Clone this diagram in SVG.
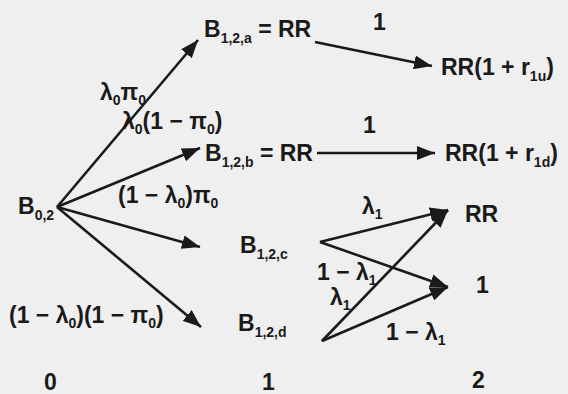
<svg xmlns="http://www.w3.org/2000/svg" width="568" height="394" viewBox="0 0 568 394">
<defs>
<marker id="ah" markerUnits="userSpaceOnUse" markerWidth="20" markerHeight="14" refX="18" refY="7" orient="auto">
<path d="M0,0 L18,7 L0,14 Z" fill="#1a1a1a"/>
</marker>
</defs>
<style>
text{font-family:"Liberation Sans",Arial,sans-serif;font-weight:bold;font-size:23px;fill:#1a1a1a}
.s{font-size:14px}
.c{stroke:#1a1a1a;stroke-width:2.6;fill:none;marker-end:url(#ah)}
</style>
<rect width="568" height="394" fill="#efefef"/>
<g id="connectors">
<line class="c" x1="57" y1="207" x2="198" y2="40"/>
<line class="c" x1="57" y1="207" x2="200" y2="148"/>
<line class="c" x1="57" y1="207" x2="200" y2="247"/>
<line class="c" x1="57" y1="207" x2="201" y2="327"/>
<line class="c" x1="315" y1="42" x2="432" y2="66"/>
<line class="c" x1="317" y1="153" x2="435" y2="153"/>
<line class="c" x1="320" y1="242" x2="448" y2="210"/>
<line class="c" x1="320" y1="242" x2="448" y2="287"/>
<line class="c" x1="322" y1="341" x2="448" y2="210"/>
<line class="c" x1="322" y1="341" x2="448" y2="287"/>
</g>
<g id="labels">
<text x="100" y="100">λ<tspan class="s" dy="5">0</tspan><tspan dy="-5">π</tspan><tspan class="s" dy="5">0</tspan></text>
<text x="122" y="129">λ<tspan class="s" dy="5">0</tspan><tspan dy="-5">(1 − π</tspan><tspan class="s" dy="5">0</tspan><tspan dy="-5">)</tspan></text>
<text x="118" y="203">(1 − λ<tspan class="s" dy="5">0</tspan><tspan dy="-5">)π</tspan><tspan class="s" dy="5">0</tspan></text>
<text x="9" y="323">(1 − λ<tspan class="s" dy="5">0</tspan><tspan dy="-5">)(1 − π</tspan><tspan class="s" dy="5">0</tspan><tspan dy="-5">)</tspan></text>
<text x="373" y="30">1</text>
<text x="363" y="133">1</text>
<text x="362" y="214">λ<tspan class="s" dy="5">1</tspan></text>
<text x="317" y="280">1 − λ<tspan class="s" dy="5">1</tspan></text>
<text x="330" y="305">λ<tspan class="s" dy="5">1</tspan></text>
<text x="386" y="340">1 − λ<tspan class="s" dy="5">1</tspan></text>
</g>
<g id="n_b02"><text x="18" y="214">B<tspan class="s" dy="6">0,2</tspan></text></g>
<g id="n_b12a"><text x="204" y="37">B<tspan class="s" dy="6">1,2,a</tspan><tspan dy="-6"> = RR</tspan></text></g>
<g id="n_b12b"><text x="205" y="161">B<tspan class="s" dy="6">1,2,b</tspan><tspan dy="-6"> = RR</tspan></text></g>
<g id="n_b12c"><text x="240" y="253">B<tspan class="s" dy="6">1,2,c</tspan></text></g>
<g id="n_b12d"><text x="238" y="331">B<tspan class="s" dy="6">1,2,d</tspan></text></g>
<g id="n_ru"><text x="441" y="75">RR(1 + r<tspan class="s" dy="6">1u</tspan><tspan dy="-6">)</tspan></text></g>
<g id="n_rd"><text x="445" y="161">RR(1 + r<tspan class="s" dy="6">1d</tspan><tspan dy="-6">)</tspan></text></g>
<g id="n_rr"><text x="465" y="222">RR</text></g>
<g id="n_one"><text x="476" y="293">1</text></g>
<g id="axis">
<text x="44" y="390">0</text>
<text x="262" y="390">1</text>
<text x="472" y="388">2</text>
</g>
</svg>
